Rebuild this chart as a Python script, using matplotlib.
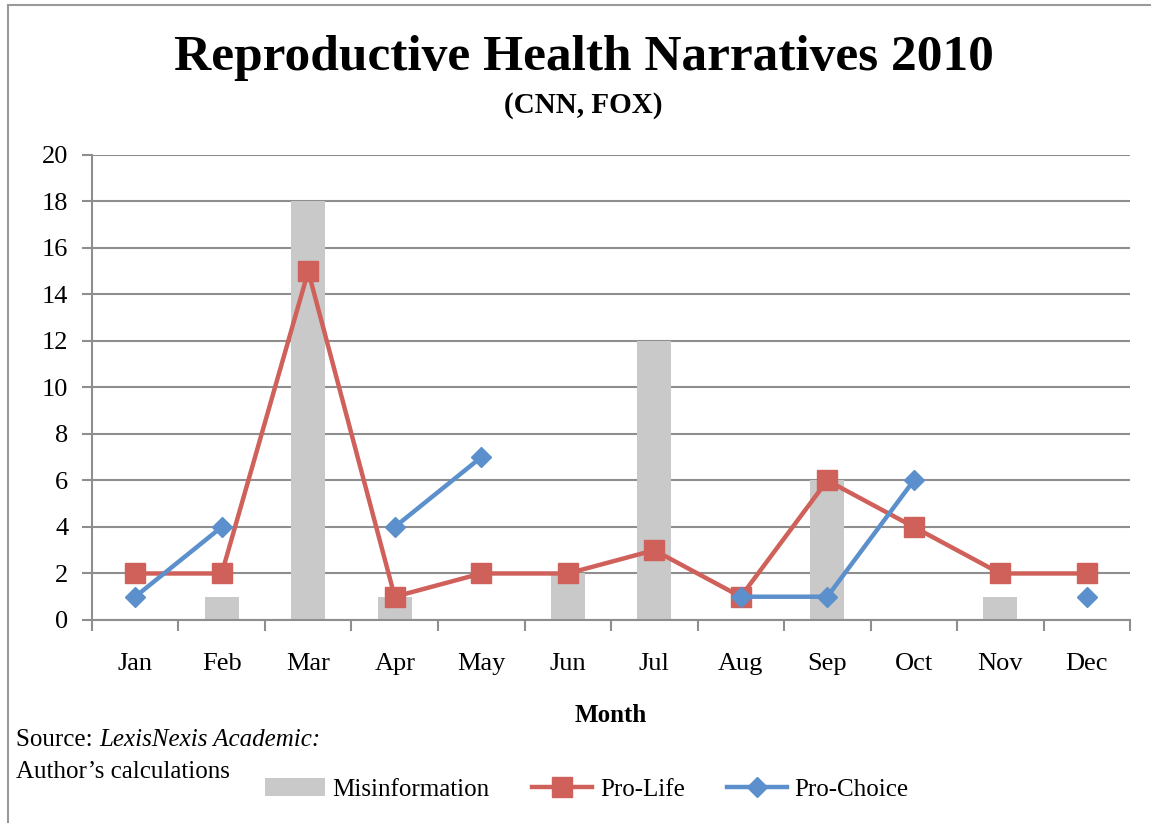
import numpy as np
import matplotlib.pyplot as plt
from matplotlib.patches import Rectangle

# Data
months = ["Jan", "Feb", "Mar", "Apr", "May", "Jun", "Jul", "Aug", "Sep", "Oct", "Nov", "Dec"]
misinformation = [0, 1, 18, 1, 0, 2, 12, 0, 6, 0, 1, 0]
pro_life = [2, 2, 15, 1, 2, 2, 3, 1, 6, 4, 2, 2]
pro_choice = [1, 4, np.nan, 4, 7, np.nan, np.nan, 1, 1, 6, np.nan, 1]

bar_color = "#C9C9C9"
red = "#D0605A"
blue = "#5B90CC"
grid_color = "#8E8E8E"

plt.rcParams['font.family'] = ['Liberation Serif', 'DejaVu Serif']

fig = plt.figure(figsize=(11.51, 8.23), dpi=100)
ax = fig.add_axes([0.0799, 0.2467, 0.9019, 0.565])

x = np.arange(len(months))
bars = ax.bar(x, misinformation, width=0.39, color=bar_color, zorder=2, label="Misinformation")
l1, = ax.plot(x, pro_life, color=red, linewidth=3.2, marker="s", markersize=15,
              markeredgecolor=red, zorder=3, label="Pro-Life")
l2, = ax.plot(x, pro_choice, color=blue, linewidth=3.2, marker="D", markersize=10,
              markeredgecolor=blue, zorder=4, label="Pro-Choice")

ax.set_xlim(-0.5, 11.5)
ax.set_ylim(0, 20)
ax.set_yticks(range(0, 21, 2))
ax.set_xticks(x)
ax.set_xticklabels(months)
ax.set_xticks(np.arange(-0.5, 12, 1), minor=True)
ax.tick_params(axis="x", which="major", length=0, pad=24, labelsize=19)
ax.tick_params(axis="x", which="minor", length=8, width=1.5, color=grid_color, direction="out")
ax.tick_params(axis="y", length=7, width=1.5, color=grid_color, labelsize=19, pad=10)

ax.grid(axis="y", color=grid_color, linewidth=1.5, zorder=0)
ax.set_axisbelow(True)
for side in ["top", "right"]:
    ax.spines[side].set_visible(False)
for side in ["left", "bottom"]:
    ax.spines[side].set_color(grid_color)
    ax.spines[side].set_linewidth(1.5)

ax.set_xlabel("Month", fontsize=18, fontweight="bold", labelpad=21)

fig.text(0.507, 0.9295, "Reproductive Health Narratives 2010", ha="center", va="center",
         fontsize=37, fontweight="bold")
fig.text(0.507, 0.872, "(CNN, FOX)", ha="center", va="center", fontsize=21, fontweight="bold")

src = fig.text(0.014, 0.101, "Source: ", fontsize=18, va="center")
fig.canvas.draw()
bb = src.get_window_extent(fig.canvas.get_renderer()).transformed(fig.transFigure.inverted())
fig.text(bb.x1, 0.101, "LexisNexis Academic:", fontsize=18, va="center", style="italic")
fig.text(0.014, 0.062, "Author\u2019s calculations", fontsize=18, va="center")

fig.legend([bars, l1, l2], ["Misinformation", "Pro-Life", "Pro-Choice"], ncol=3,
           frameon=False, fontsize=18, loc="center", bbox_to_anchor=(0.51, 0.041),
           handlelength=2.4, columnspacing=1.7, handletextpad=0.3)

# outer chart border
fig.patches.append(Rectangle((0.007, -0.01), 1.0, 1.004, transform=fig.transFigure,
                             fill=False, edgecolor="#9A9A9A", linewidth=1.5))

fig.savefig("out.png", dpi=100)
